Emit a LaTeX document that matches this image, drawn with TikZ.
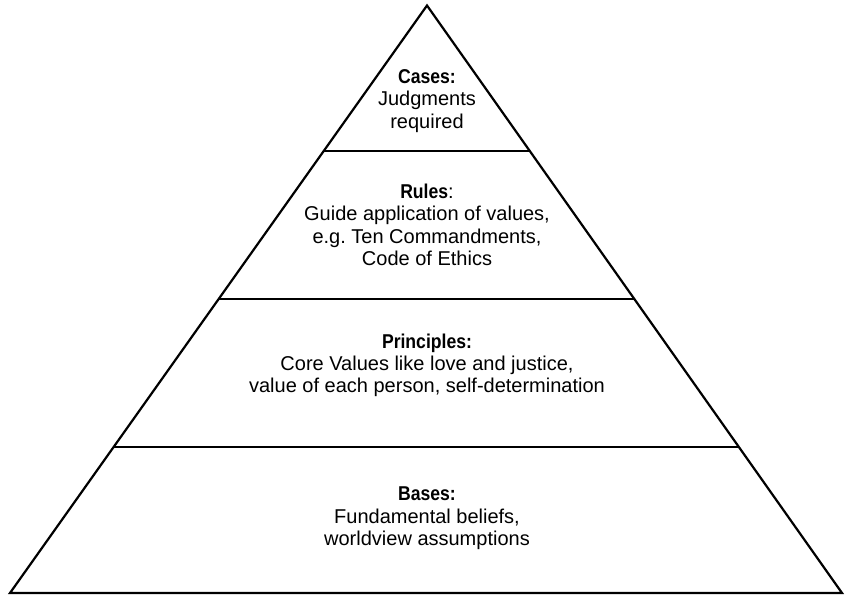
\documentclass[tikz,border=0pt]{standalone}
\usepackage{fontspec}
\setmainfont{Liberation Sans}[BoldFeatures={FakeStretch=0.88}]
\usetikzlibrary{calc}
\begin{document}
\begin{tikzpicture}[x=1pt,y=1pt,line width=2.2pt,
  tier/.style={align=center,inner sep=0pt,font=\fontsize{20}{22.4}\selectfont}]
\useasboundingbox (0,0) rectangle (845,595);
\coordinate (top) at (427,589.5);
\coordinate (bl) at (10,2);
\coordinate (br) at (842,2);
\draw (top) -- (bl) -- (br) -- cycle;
\foreach \t in {0.248,0.5,0.752}
  \draw ($(top)!\t!(bl)$) -- ($(top)!\t!(br)$);
\node[tier] (cases) at (427,494) {\textbf{Cases:}\\Judgments\\required};
\node[tier] (rules) at (427,370.3) {\textbf{Rules}:\\Guide application of values,\\e.g.\ Ten Commandments,\\Code of Ethics};
\node[tier] (principles) at (427,229.7) {\textbf{Principles:}\\Core Values like love and justice,\\value of each person, self-determination};
\node[tier] (bases) at (427,76.7) {\textbf{Bases:}\\Fundamental beliefs,\\worldview assumptions};
\end{tikzpicture}
\end{document}
